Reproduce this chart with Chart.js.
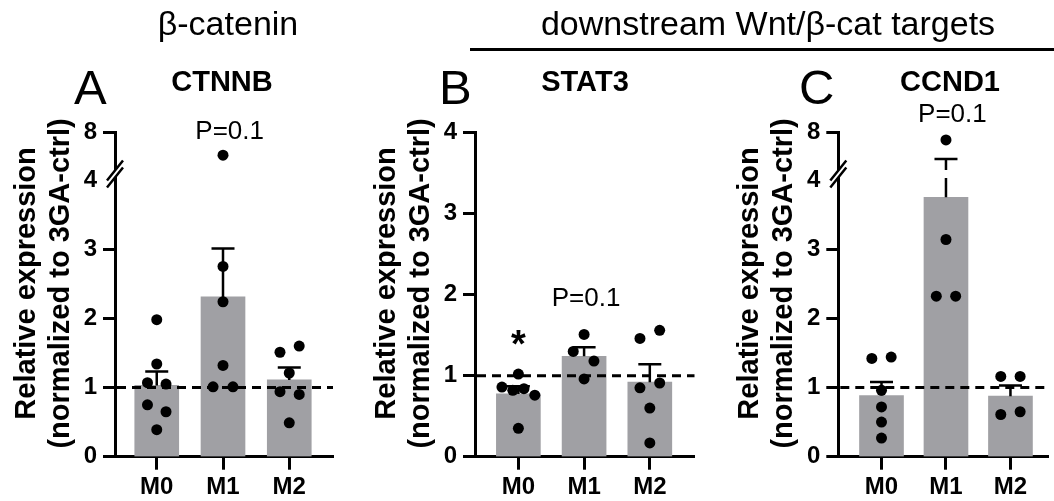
<!DOCTYPE html>
<html>
<head>
<meta charset="utf-8">
<script src="https://cdn.jsdelivr.net/npm/chart.js@4.4.1/dist/chart.umd.min.js"></script>
<style>
  body { margin: 0; background: #fff; width: 1054px; height: 501px; position: relative; overflow: hidden;
         font-family: "Liberation Sans", Arial, sans-serif; }
  canvas { position: absolute; top: 0; }
  .t { position: absolute; line-height: 1; white-space: nowrap; color: #000; }
  .c { text-align: center; }
</style>
</head>
<body>
<canvas id="cA" width="345" height="501" style="left:0"></canvas>
<canvas id="cB" width="355" height="501" style="left:345px"></canvas>
<canvas id="cC" width="354" height="501" style="left:700px"></canvas>

<div class="t c" style="font-size:34px;left:78px;width:300px;top:6px">β-catenin</div>
<div class="t c" style="font-size:34px;left:468px;width:600px;top:6px">downstream Wnt/β-cat targets</div>
<div style="position:absolute;left:470px;top:48px;width:584px;height:3px;background:#000"></div>

<div class="t" style="font-size:49px;left:74px;top:63px">A</div>
<div class="t" style="font-size:49px;left:439px;top:63px">B</div>
<div class="t" style="font-size:49px;left:799px;top:63px">C</div>

<div class="t c" style="font-size:29px;font-weight:bold;left:122px;width:200px;top:67px">CTNNB</div>
<div class="t c" style="font-size:29px;font-weight:bold;left:485px;width:200px;top:67px">STAT3</div>
<div class="t c" style="font-size:29px;font-weight:bold;left:850px;width:200px;top:67px">CCND1</div>

<script>
const FONT = '"Liberation Sans", Arial, sans-serif';
const catLabels = ['M0', 'M1', 'M2'];
const refLevel = 1;
const yTicksBroken = [0, 1, 2, 3, 4, 8];
const yTicksPlain = [0, 1, 2, 3, 4];
// leading en space + space nudges the centred axis title up a little
const yTitle = ['\u2002 Relative expression', '\u2002 (normalized to 3GA-ctrl)'];

// CTNNB
const ctnnbMean = [1.03, 2.31, 1.11];
const ctnnbSemTop = [1.23, 3.01, 1.29];
const ctnnbM0 = [1.98, 1.34, 1.07, 1.05, 0.75, 0.65, 0.39];
const ctnnbM1 = [6.1, 2.75, 2.24, 1.32, 1.01, 1.01];
const ctnnbM2 = [1.60, 1.51, 1.21, 0.94, 0.90, 0.49];
const ctnnbJit = [[0, 0, -0.14, 0.14, -0.14, 0.14, 0], [0, 0, 0, 0, -0.15, 0.15], [0.15, -0.14, 0, -0.14, 0.15, 0]];
const ctnnbNotes = [{ text: 'P=0.1', x: 1.1, y: 8.1, bold: false }];

// STAT3
const stat3Mean = [0.775, 1.24, 0.92];
const stat3SemTop = [0.87, 1.35, 1.14];
const stat3M0 = [1.02, 0.86, 0.82, 0.84, 0.76, 0.35];
const stat3M1 = [1.51, 1.30, 1.18, 0.96];
const stat3M2 = [1.56, 1.46, 0.91, 0.85, 0.60, 0.17];
const stat3Jit = [[0, -0.25, -0.085, 0.085, 0.25, 0], [0, -0.165, 0.15, 0], [0.15, -0.15, 0.15, -0.15, 0, 0]];
const stat3Notes = [{ text: '*', x: 0, y: 1.36, bold: true }, { text: 'P=0.1', x: 1.03, y: 1.95, bold: false }];

// CCND1
const ccnd1Mean = [0.885, 3.75, 0.875];
const ccnd1SemTop = [1.08, 5.78, 1.03];
const ccnd1M0 = [1.42, 1.44, 0.96, 0.72, 0.50, 0.27];
const ccnd1M1 = [7.39, 3.14, 2.32, 2.32];
const ccnd1M2 = [1.16, 1.16, 0.61, 0.65];
const ccnd1Jit = [[-0.15, 0.15, 0, 0, 0, 0], [0, 0, -0.15, 0.15], [-0.15, 0.15, -0.15, 0.15]];
const ccnd1Notes = [{ text: 'P=0.1', x: 1.1, y: 9.5, bold: false }];

// y axis with a break: lower part [min, breakAt] gets breakFrac of the height
class BrokenAxis extends Chart.LinearScale {
  getPixelForValue(value) {
    const at = this.options.breakAt;
    const lowLen = this._length * this.options.breakFrac;
    if (value <= at) return this.bottom - (value - this.min) / (at - this.min) * lowLen;
    return this.bottom - lowLen - (value - at) / (this.max - at) * (this._length - lowLen);
  }
  getValueForPixel(pixel) {
    const at = this.options.breakAt;
    const lowLen = this._length * this.options.breakFrac;
    const d = this.bottom - pixel;
    if (d <= lowLen) return this.min + d / lowLen * (at - this.min);
    return at + (d - lowLen) / (this._length - lowLen) * (this.max - at);
  }
}
BrokenAxis.id = 'broken';
BrokenAxis.defaults = Chart.LinearScale.defaults;
Chart.register(BrokenAxis);

const overlay = {
  id: 'overlay',
  afterDatasetDraw(chart, args, opts) {
    if (args.meta.type !== 'bar') return;
    const ctx = chart.ctx, y = chart.scales.y, area = chart.chartArea;
    ctx.save();
    ctx.strokeStyle = '#000';
    ctx.lineWidth = 3;
    ctx.setLineDash([9, 6]);
    const y1 = y.getPixelForValue(refLevel);
    ctx.beginPath();
    ctx.moveTo(area.left + 2, y1);
    ctx.lineTo(area.right, y1);
    ctx.stroke();
    ctx.setLineDash([]);

    const semTop = chart.data.datasets[args.index].semTop;
    const brk = opts.broken ? y.getPixelForValue(4) - 6 : null;
    ctx.lineWidth = 2.5;
    args.meta.data.forEach((bar, i) => {
      const top = y.getPixelForValue(semTop[i]);
      ctx.beginPath();
      if (brk !== null && top < brk - 5) {
        ctx.moveTo(bar.x, bar.y); ctx.lineTo(bar.x, brk + 4);
        ctx.moveTo(bar.x, brk - 4); ctx.lineTo(bar.x, top);
      } else {
        ctx.moveTo(bar.x, bar.y); ctx.lineTo(bar.x, top);
      }
      ctx.moveTo(bar.x - 11.5, top); ctx.lineTo(bar.x + 11.5, top);
      ctx.stroke();
    });
    ctx.restore();
  },
  afterDraw(chart, args, opts) {
    const ctx = chart.ctx, x = chart.scales.x, y = chart.scales.y;
    ctx.save();
    if (opts.broken) {
      const px = chart.chartArea.left, py = y.getPixelForValue(4) - 6;
      const dx = 8, dy = 10, s = 3.5;
      ctx.fillStyle = '#fff';
      ctx.beginPath();
      ctx.moveTo(px - dx, py + dy - s); ctx.lineTo(px + dx, py - dy - s);
      ctx.lineTo(px + dx, py - dy + s); ctx.lineTo(px - dx, py + dy + s);
      ctx.closePath(); ctx.fill();
      ctx.strokeStyle = '#000'; ctx.lineWidth = 2.5;
      ctx.beginPath();
      ctx.moveTo(px - dx, py + dy - s); ctx.lineTo(px + dx, py - dy - s);
      ctx.moveTo(px - dx, py + dy + s); ctx.lineTo(px + dx, py - dy + s);
      ctx.stroke();
    }
    ctx.fillStyle = '#000';
    ctx.textAlign = 'center';
    ctx.textBaseline = 'middle';
    opts.notes.forEach(n => {
      ctx.font = n.bold ? 'bold 38px ' + FONT : '26px ' + FONT;
      ctx.fillText(n.text, x.getPixelForValue(n.x), y.getPixelForValue(n.y));
    });
    ctx.restore();
  }
};

function makePanel(id, means, semTop, groups, jitter, notes, broken, padLeft, padRight, xMin, xMax) {
  const pts = [];
  groups.forEach((vals, g) => vals.forEach((v, k) => pts.push({ x: g + jitter[g][k], y: v })));
  const bars = means.map((m, i) => ({ x: i, y: m }));
  const yTicks = broken ? yTicksBroken : yTicksPlain;
  const axisGrid = (hideFour) => ({
    display: true, drawOnChartArea: false, drawTicks: true, offset: false,
    tickLength: 12, tickWidth: 3,
    tickColor: ctx => (hideFour && ctx.tick && ctx.tick.value === 4) ? 'rgba(0,0,0,0)' : '#000'
  });
  new Chart(document.getElementById(id), {
    type: 'bar',
    data: {
      datasets: [
        { type: 'scatter', data: pts, pointRadius: 5.5, pointBackgroundColor: '#000',
          pointBorderWidth: 0, order: 1 },
        { type: 'bar', data: bars, backgroundColor: '#a0a0a4', barThickness: 44, order: 2, semTop: semTop }
      ]
    },
    options: {
      responsive: false,
      animation: false,
      events: [],
      layout: { padding: { top: 132.7, bottom: 0, left: padLeft, right: padRight } },
      plugins: {
        legend: { display: false },
        tooltip: { enabled: false },
        overlay: { broken: broken, notes: notes }
      },
      scales: {
        x: {
          type: 'linear', min: xMin, max: xMax, offset: false, bounds: 'data',
          afterBuildTicks: s => { s.ticks = catLabels.map((_, i) => ({ value: i })); },
          afterFit: s => { s.height = 44.3; },
          ticks: { callback: v => catLabels[v], color: '#000', padding: 3,
                   font: { family: FONT, size: 24, weight: 'bold' }, maxRotation: 0 },
          grid: Object.assign(axisGrid(false), { tickLength: 13 }),
          border: { display: true, width: 3, color: '#000' }
        },
        y: {
          type: broken ? 'broken' : 'linear', min: 0, max: yTicks[yTicks.length - 1],
          breakAt: 4, breakFrac: 0.854,
          afterBuildTicks: s => { s.ticks = yTicks.map(v => ({ value: v })); },
          afterFit: s => { s.width = 115; },
          ticks: { callback: v => String(v), color: '#000', padding: 6,
                   font: { family: FONT, size: 24, weight: 'bold' } },
          grid: axisGrid(broken),
          border: { display: true, width: 3, color: '#000' },
          title: {
            display: true,
            text: yTitle,
            color: '#000',
            font: { family: FONT, size: 29, weight: 'bold', lineHeight: 1.17 },
            padding: { top: 10, bottom: 0 }
          }
        }
      }
    },
    plugins: [overlay]
  });
}

makePanel('cA', ctnnbMean, ctnnbSemTop, [ctnnbM0, ctnnbM1, ctnnbM2], ctnnbJit, ctnnbNotes, true, 0, 12, -0.63, 2.66);
makePanel('cB', stat3Mean, stat3SemTop, [stat3M0, stat3M1, stat3M2], stat3Jit, stat3Notes, false, 15, 2, -0.66, 2.68);
makePanel('cC', ccnd1Mean, ccnd1SemTop, [ccnd1M0, ccnd1M1, ccnd1M2], ccnd1Jit, ccnd1Notes, true, 23.3, 0, -0.67, 2.59);
</script>
</body>
</html>
